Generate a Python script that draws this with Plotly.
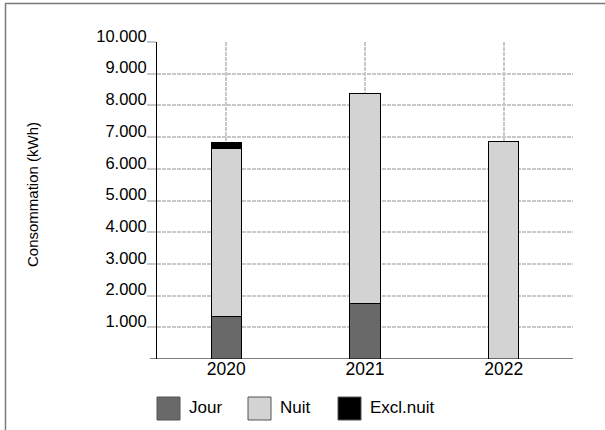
import plotly.graph_objects as go

years = ["2020", "2021", "2022"]
jour = [1340, 1740, 0]
nuit = [5290, 6630, 6860]
excl_nuit = [190, 0, 0]
series_names = ["Jour", "Nuit", "Excl.nuit"]
series_colors = ["#696969", "#d3d3d3", "#000000"]
y_ticks = [1000, 2000, 3000, 4000, 5000, 6000, 7000, 8000, 9000, 10000]
y_title = "Consommation (kWh)"

W, H = 605, 430
L, R, T, B = 157, 32, 42, 71
pw, ph = W - L - R, H - T - B

def px(x):
    return (x - L) / pw

def py(y):
    return (H - B - y) / ph

fig = go.Figure()
for name, vals, col in zip(series_names, [jour, nuit, excl_nuit], series_colors):
    fig.add_trace(go.Bar(
        x=years, y=vals, name=name, width=0.22,
        marker=dict(color=col, line=dict(color="#000000", width=1)),
        showlegend=False,
    ))

font = "Liberation Sans, Arial, sans-serif"
shapes = []
annotations = []

# custom legend
leg_x = [157, 248, 338]
for i, (name, col) in enumerate(zip(series_names, series_colors)):
    x0 = leg_x[i]
    shapes.append(dict(type="rect", xref="paper", yref="paper",
                       x0=px(x0), x1=px(x0 + 23), y0=py(420), y1=py(397),
                       fillcolor=col, line=dict(color="#555555", width=1)))
    annotations.append(dict(xref="paper", yref="paper", x=px(x0 + 30), y=py(407),
                            text=name, showarrow=False, xanchor="left", yanchor="middle",
                            font=dict(family=font, size=17, color="#000000")))

# outer frame (partially visible)
shapes.append(dict(type="line", xref="paper", yref="paper",
                   x0=px(5), x1=px(620), y0=py(3.5), y1=py(3.5),
                   line=dict(color="#7a7a7a", width=1.5)))
shapes.append(dict(type="line", xref="paper", yref="paper",
                   x0=px(5.5), x1=px(5.5), y0=py(3.5), y1=py(440),
                   line=dict(color="#7a7a7a", width=1.5)))
# x axis baseline extending left of y axis
shapes.append(dict(type="line", xref="paper", yref="y",
                   x0=px(150), x1=1, y0=0, y1=0,
                   line=dict(color="#000000", width=1.2)))

annotations.append(dict(xref="paper", yref="paper", x=px(32), y=py(195),
                        text=y_title, showarrow=False, textangle=-90,
                        xanchor="center", yanchor="middle",
                        font=dict(family=font, size=15, color="#000000")))

fig.update_layout(
    width=W, height=H,
    margin=dict(l=L, r=R, t=T, b=B, pad=0),
    barmode="stack",
    paper_bgcolor="white", plot_bgcolor="white",
    separators=",.",
    showlegend=False,
    font=dict(family=font, size=17, color="#000000"),
    shapes=shapes, annotations=annotations,
    xaxis=dict(
        showgrid=True, gridcolor="#c8c8c8", griddash="4px,1px", gridwidth=1.5,
        showline=False, ticks="", zeroline=False,
        tickfont=dict(family=font, size=17.5, color="#000000"),
        ticklabelstandoff=-3,
    ),
    yaxis=dict(
        range=[0, 10000], tickvals=y_ticks, tickformat=",d",
        showgrid=True, gridcolor="#c8c8c8", griddash="4px,1px", gridwidth=1.5,
        showline=True, linecolor="#000000", linewidth=1,
        ticks="outside", ticklen=9, tickcolor="#c8c8c8", tickwidth=1.5,
        zeroline=False, ticklabelstandoff=-3, ticklabelshift=-6,
        tickfont=dict(family=font, size=16.5, color="#000000"),
    ),
)

fig.write_html("out.html", config={"displayModeBar": False},
               post_script="document.body.style.margin='0';document.body.style.overflow='hidden';")
